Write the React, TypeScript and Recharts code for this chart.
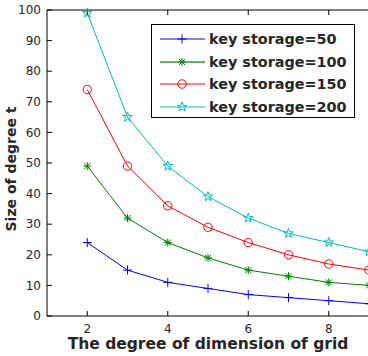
import { LineChart, Line, XAxis, YAxis } from 'recharts';

const dims = [2, 3, 4, 5, 6, 7, 8, 9];
const storage50 = [24, 15, 11, 9, 7, 6, 5, 4];
const storage100 = [49, 32, 24, 19, 15, 13, 11, 10];
const storage150 = [74, 49, 36, 29, 24, 20, 17, 15];
const storage200 = [99, 65, 49, 39, 32, 27, 24, 21];
const xTicks = [2, 4, 6, 8];
const yTicks = [0, 10, 20, 30, 40, 50, 60, 70, 80, 90, 100];

const data = dims.map((d, i) => ({
  dim: d,
  s50: storage50[i],
  s100: storage100[i],
  s150: storage150[i],
  s200: storage200[i],
}));

const FONT = '"DejaVu Sans", sans-serif';
const TICK = { fontSize: 12, fill: '#262626', fontFamily: FONT };

type Kind = 'plus' | 'asterisk' | 'circle' | 'star';

const series: { key: string; name: string; color: string; kind: Kind }[] = [
  { key: 's50', name: 'key storage=50', color: '#0000ff', kind: 'plus' },
  { key: 's100', name: 'key storage=100', color: '#008000', kind: 'asterisk' },
  { key: 's150', name: 'key storage=150', color: '#ff0000', kind: 'circle' },
  { key: 's200', name: 'key storage=200', color: '#00bfbf', kind: 'star' },
];

function Marker({ cx, cy, kind, color }: { cx: number; cy: number; kind: Kind; color: string }) {
  if (cx == null || cy == null) return null;
  if (kind === 'plus') {
    return (
      <g stroke={color} strokeWidth={1}>
        <line x1={cx - 4.5} y1={cy} x2={cx + 4.5} y2={cy} />
        <line x1={cx} y1={cy - 4.5} x2={cx} y2={cy + 4.5} />
      </g>
    );
  }
  if (kind === 'asterisk') {
    return (
      <g stroke={color} strokeWidth={1}>
        <line x1={cx - 4} y1={cy} x2={cx + 4} y2={cy} />
        <line x1={cx} y1={cy - 4} x2={cx} y2={cy + 4} />
        <line x1={cx - 3} y1={cy - 3} x2={cx + 3} y2={cy + 3} />
        <line x1={cx - 3} y1={cy + 3} x2={cx + 3} y2={cy - 3} />
      </g>
    );
  }
  if (kind === 'circle') {
    return <circle cx={cx} cy={cy} r={4.2} fill="none" stroke={color} strokeWidth={1} />;
  }
  const pts: string[] = [];
  for (let k = 0; k < 10; k++) {
    const r = k % 2 === 0 ? 5 : 2;
    const a = -Math.PI / 2 + (k * Math.PI) / 5;
    pts.push(`${cx + r * Math.cos(a)},${cy + r * Math.sin(a)}`);
  }
  return <polygon points={pts.join(' ')} fill="none" stroke={color} strokeWidth={1} />;
}

// legend drawn as an overlay so it does not eat into the plot area
function LegendBox() {
  return (
    <div
      style={{
        position: 'absolute',
        left: 151,
        top: 24,
        width: 204,
        height: 94,
        boxSizing: 'border-box',
        border: '1px solid #000',
        background: '#fff',
      }}
    >
      {series.map((s, i) => (
        <div
          key={s.key}
          style={{ position: 'absolute', left: 0, top: 3 + i * 22.5, height: 22, display: 'flex', alignItems: 'center' }}
        >
          <svg width={57} height={22} style={{ display: 'block' }}>
            <line
              x1={8}
              y1={11}
              x2={53}
              y2={11}
              stroke={s.color}
              strokeWidth={s.kind === 'asterisk' ? 2 : 1}
              strokeOpacity={s.kind === 'asterisk' ? 0.6 : 1}
            />
            <Marker cx={30} cy={11} kind={s.kind} color={s.color} />
          </svg>
          <span style={{ fontFamily: FONT, fontWeight: 'bold', fontSize: 14.4, color: '#262626', lineHeight: '22px', whiteSpace: 'nowrap' }}>
            {s.name}
          </span>
        </div>
      ))}
    </div>
  );
}

const noLabel = () => '';

export default function App() {
  return (
    <div style={{ position: 'absolute', left: 0, top: 0, width: 368, height: 356, overflow: 'hidden', background: '#fff' }}>
      <LineChart width={372} height={356} data={data} margin={{ top: 9, right: 2, left: 0, bottom: 0 }}>
        <XAxis
          dataKey="dim"
          type="number"
          domain={[1, 9]}
          ticks={xTicks}
          allowDataOverflow
          stroke="#000"
          tickSize={-5}
          tickMargin={13}
          tick={TICK}
          height={40}
          label={({ viewBox }: any) => (
            <text
              x={viewBox.x + viewBox.width / 2}
              y={viewBox.y + 32.5}
              textAnchor="middle"
              fontFamily={FONT}
              fontWeight="bold"
              fontSize={15.5}
              fill="#262626"
            >
              The degree of dimension of grid
            </text>
          )}
        />
        <XAxis
          xAxisId="top"
          orientation="top"
          dataKey="dim"
          type="number"
          domain={[1, 9]}
          ticks={xTicks}
          allowDataOverflow
          stroke="#000"
          tickSize={-5}
          tickFormatter={noLabel}
          height={1}
        />
        <YAxis
          type="number"
          domain={[0, 100]}
          ticks={yTicks}
          stroke="#000"
          tickSize={-5}
          tickMargin={11}
          tick={TICK}
          width={47}
          label={() => (
            <text
              x={15.7}
              y={169}
              transform="rotate(-90 15.7 169)"
              textAnchor="middle"
              fontFamily={FONT}
              fontWeight="bold"
              fontSize={14}
              fill="#262626"
            >
              Size of degree t
            </text>
          )}
        />
        <YAxis
          yAxisId="right"
          orientation="right"
          type="number"
          domain={[0, 100]}
          ticks={yTicks}
          stroke="#000"
          tickSize={-5}
          tickFormatter={noLabel}
          width={1}
        />
        {series.map((s) => (
          <Line
            key={s.key}
            dataKey={s.key}
            name={s.name}
            stroke={s.color}
            strokeWidth={1}
            type="linear"
            isAnimationActive={false}
            dot={(p: any) => <Marker key={`${s.key}-${p.index}`} cx={p.cx} cy={p.cy} kind={s.kind} color={s.color} />}
            activeDot={false}
          />
        ))}
      </LineChart>
      <LegendBox />
    </div>
  );
}
